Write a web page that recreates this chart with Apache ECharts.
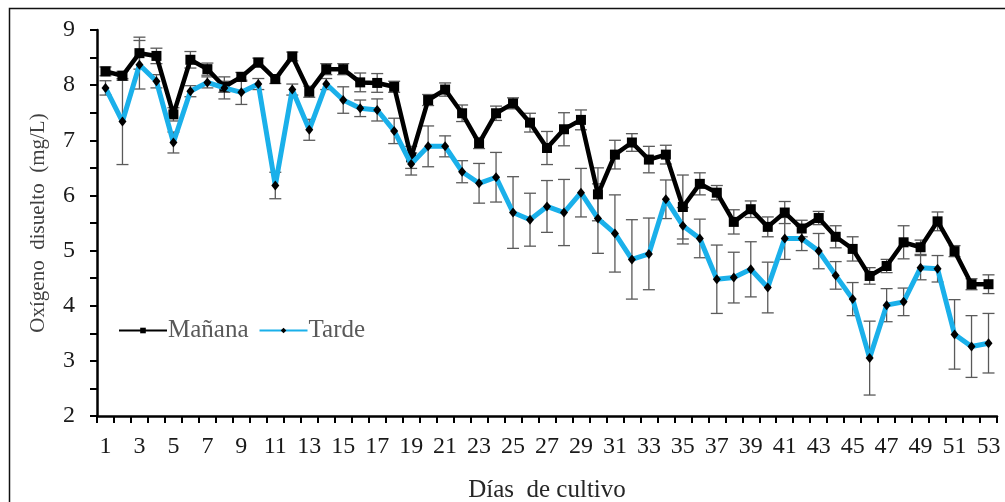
<!DOCTYPE html>
<html>
<head>
<meta charset="utf-8">
<script src="https://cdn.jsdelivr.net/npm/echarts@6/dist/echarts.min.js"></script>
<style>
  html, body { margin: 0; padding: 0; background: #fff; }
  #chart { width: 1005px; height: 502px; }
</style>
</head>
<body>
<div id="chart"></div>
<script>
// Días de cultivo (categorías del eje X)
const days = ['1','2','3','4','5','6','7','8','9','10','11','12','13','14','15','16','17','18','19','20',
  '21','22','23','24','25','26','27','28','29','30','31','32','33','34','35','36','37','38','39','40',
  '41','42','43','44','45','46','47','48','49','50','51','52','53'];

// Oxígeno disuelto (mg/L) – medición de la mañana
const manana = [8.25, 8.17, 8.58, 8.53, 7.47, 8.46, 8.29, 7.97, 8.15, 8.41,
  8.11, 8.52, 7.88, 8.29, 8.29, 8.05, 8.04, 7.97, 6.69, 7.73,
  7.92, 7.49, 6.95, 7.49, 7.67, 7.32, 6.86, 7.20, 7.37, 6.02,
  6.74, 6.96, 6.65, 6.74, 5.79, 6.21, 6.05, 5.52, 5.75, 5.43,
  5.69, 5.40, 5.59, 5.25, 5.03, 4.54, 4.72, 5.15, 5.06, 5.53,
  4.99, 4.39, 4.39];

// Desviación estándar – mañana
const mananaErr = [0.08, 0.08, 0.29, 0.14, 0.12, 0.15, 0.11, 0.10, 0.08, 0.08,
  0.08, 0.08, 0.10, 0.10, 0.10, 0.17, 0.17, 0.10, 0.20, 0.10,
  0.12, 0.15, 0.10, 0.13, 0.10, 0.17, 0.30, 0.30, 0.18, 0.48,
  0.26, 0.16, 0.24, 0.17, 0.58, 0.20, 0.13, 0.22, 0.15, 0.18,
  0.20, 0.15, 0.12, 0.20, 0.22, 0.15, 0.12, 0.30, 0.13, 0.17,
  0.10, 0.10, 0.17];

// Oxígeno disuelto (mg/L) – medición de la tarde
const tarde = [7.95, 7.34, 8.37, 8.07, 6.96, 7.89, 8.05, 7.95, 7.87, 8.02,
  6.18, 7.92, 7.19, 8.02, 7.73, 7.58, 7.55, 7.17, 6.57, 6.89,
  6.89, 6.43, 6.22, 6.33, 5.69, 5.56, 5.80, 5.69, 6.05, 5.58,
  5.31, 4.84, 4.94, 5.93, 5.45, 5.22, 4.48, 4.51, 4.66, 4.33,
  5.22, 5.22, 4.99, 4.55, 4.12, 3.05, 4.01, 4.07, 4.69, 4.67,
  3.48, 3.26, 3.32];

// Desviación estándar – tarde
const tardeErr = [0.13, 0.78, 0.44, 0.12, 0.19, 0.10, 0.10, 0.20, 0.22, 0.10,
  0.24, 0.10, 0.19, 0.10, 0.24, 0.15, 0.20, 0.23, 0.20, 0.37,
  0.19, 0.20, 0.36, 0.45, 0.65, 0.48, 0.47, 0.60, 0.44, 0.63,
  0.70, 0.72, 0.65, 0.35, 0.33, 0.35, 0.62, 0.46, 0.50, 0.46,
  0.38, 0.22, 0.32, 0.25, 0.30, 0.67, 0.30, 0.25, 0.22, 0.24,
  0.63, 0.56, 0.54];

// Eje Y
const yMin = 2, yMax = 9, yStep = 1;

const FONT = '"Liberation Serif", "Times New Roman", serif';

function errData(values, errs) {
  return values.map((v, i) => [i, v - errs[i], v + errs[i]]);
}

function renderErr(params, api) {
  const x = api.value(0);
  const top = api.coord([x, api.value(2)]);
  const bot = api.coord([x, api.value(1)]);
  const w = 6;
  const style = { stroke: '#5a5a5a', lineWidth: 1.3 };
  return {
    type: 'group',
    children: [
      { type: 'line', shape: { x1: top[0], y1: top[1], x2: bot[0], y2: bot[1] }, style },
      { type: 'line', shape: { x1: top[0] - w, y1: top[1], x2: top[0] + w, y2: top[1] }, style },
      { type: 'line', shape: { x1: bot[0] - w, y1: bot[1], x2: bot[0] + w, y2: bot[1] }, style }
    ]
  };
}

const chart = echarts.init(document.getElementById('chart'), null, { renderer: 'canvas' });

chart.setOption({
  animation: false,
  backgroundColor: '#fff',
  textStyle: { fontFamily: FONT },
  graphic: [{
    type: 'rect',
    shape: { x: 9.5, y: 8.5, width: 1010, height: 510 },
    style: { fill: 'none', stroke: '#111', lineWidth: 1.5 },
    silent: true
  }],
  grid: { left: 97, right: 8, top: 30, bottom: 86, containLabel: false, outerBoundsMode: 'none' },
  legend: {
    left: 113, top: 313,
    itemWidth: 48, itemHeight: 7, itemGap: 10,
    data: ['Mañana', 'Tarde'],
    textStyle: { fontFamily: FONT, fontSize: 25, color: '#595959', padding: [0, 0, 0, -4] }
  },
  xAxis: {
    type: 'category',
    data: days,
    boundaryGap: true,
    name: 'Días  de cultivo',
    nameLocation: 'middle',
    nameGap: 62,
    nameTextStyle: { fontFamily: FONT, fontSize: 25, color: '#262626' },
    axisLine: { lineStyle: { color: '#000', width: 2.5 } },
    axisTick: { show: true, interval: 0, length: 7, lineStyle: { color: '#000', width: 2 } },
    axisLabel: { interval: 1, margin: 19, fontFamily: FONT, fontSize: 24, color: '#1a1a1a' },
    splitLine: { show: false }
  },
  yAxis: {
    type: 'value',
    min: yMin, max: yMax, interval: yStep,
    name: 'Oxígeno  disuelto  (mg/L)',
    nameLocation: 'middle',
    nameGap: 48,
    nameTextStyle: { fontFamily: FONT, fontSize: 21, color: '#404040' },
    axisLine: { show: true, lineStyle: { color: '#000', width: 2.5 } },
    axisTick: { show: true, length: 7, lineStyle: { color: '#000', width: 2 } },
    minorTick: { show: true, splitNumber: 2, length: 7, lineStyle: { color: '#000', width: 2 } },
    axisLabel: { margin: 22, fontFamily: FONT, fontSize: 24, color: '#1a1a1a' },
    splitLine: { show: false }
  },
  series: [
    {
      name: 'errMañana',
      type: 'custom',
      renderItem: renderErr,
      data: errData(manana, mananaErr),
      encode: { x: 0, y: [1, 2] },
      z: 1,
      silent: true
    },
    {
      name: 'errTarde',
      type: 'custom',
      renderItem: renderErr,
      data: errData(tarde, tardeErr),
      encode: { x: 0, y: [1, 2] },
      z: 1,
      silent: true
    },
    {
      name: 'Mañana',
      type: 'line',
      data: manana,
      symbol: 'rect',
      symbolSize: 10,
      lineStyle: { color: '#000', width: 4.5 },
      itemStyle: { color: '#000' },
      z: 3
    },
    {
      name: 'Tarde',
      type: 'line',
      data: tarde,
      symbol: 'diamond',
      symbolSize: [8, 10],
      lineStyle: { color: '#1ab0ea', width: 5 },
      itemStyle: { color: '#000' },
      z: 4
    }
  ]
});
</script>
</body>
</html>
